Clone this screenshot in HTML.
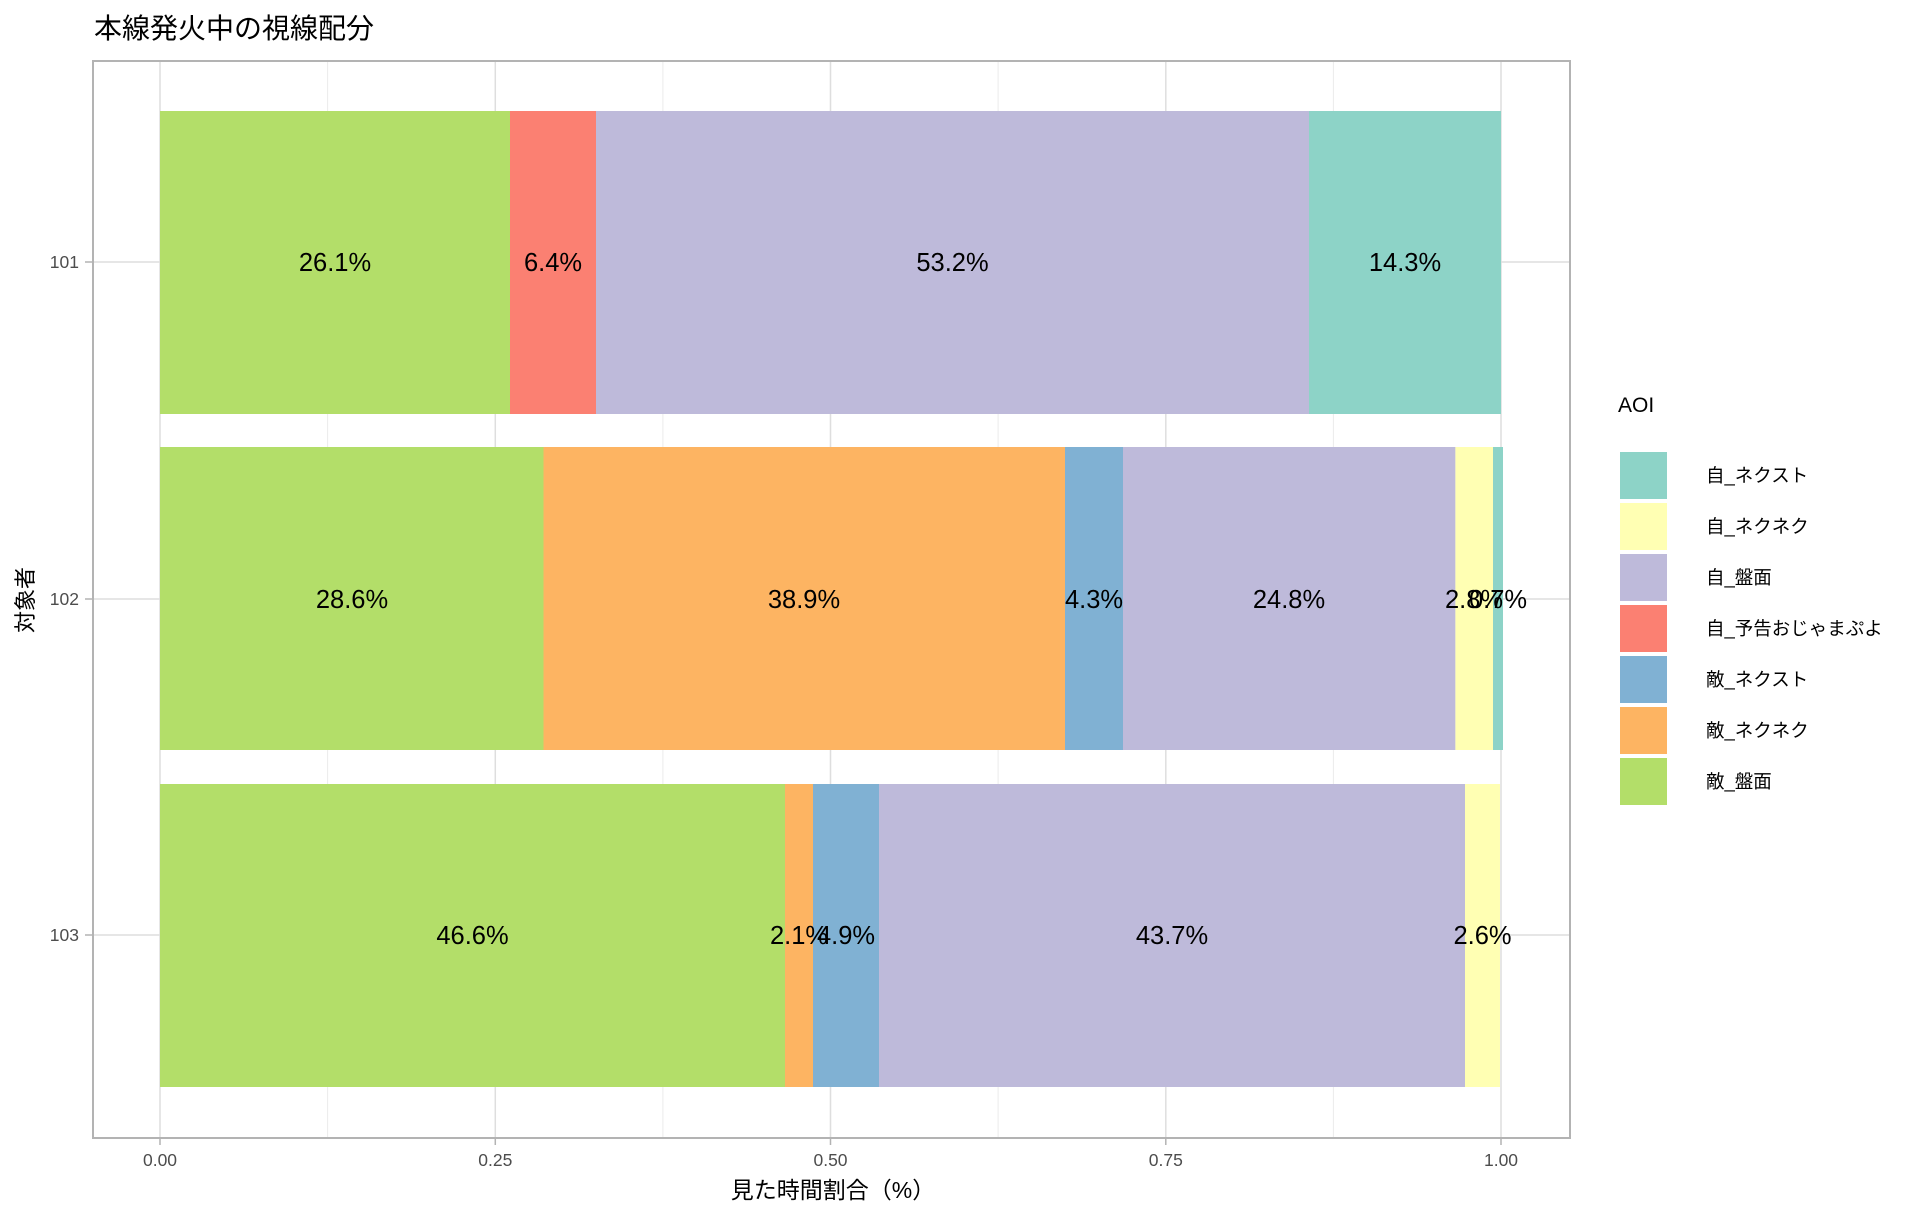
<!DOCTYPE html>
<html><head><meta charset="utf-8"><style>
html,body{margin:0;padding:0;background:#fff;}
svg{display:block;}
text{font-family:"Liberation Sans","Noto Sans CJK JP",sans-serif;}
</style></head><body>
<svg width="1920" height="1219" xmlns="http://www.w3.org/2000/svg">
<rect width="1920" height="1219" fill="#fff"/>
<text x="94" y="38" font-size="28" fill="#000">本線発火中の視線配分</text>
<!-- grid -->
<g stroke="#ebebeb" stroke-width="1">
<line x1="327.6" y1="61" x2="327.6" y2="1138"/>
<line x1="662.9" y1="61" x2="662.9" y2="1138"/>
<line x1="998.1" y1="61" x2="998.1" y2="1138"/>
<line x1="1333.4" y1="61" x2="1333.4" y2="1138"/>
</g>
<g stroke="#dedede" stroke-width="1.5">
<line x1="160" y1="61" x2="160" y2="1138"/>
<line x1="495.3" y1="61" x2="495.3" y2="1138"/>
<line x1="830.5" y1="61" x2="830.5" y2="1138"/>
<line x1="1165.8" y1="61" x2="1165.8" y2="1138"/>
<line x1="1501" y1="61" x2="1501" y2="1138"/>
<line x1="93" y1="262" x2="1570" y2="262"/>
<line x1="93" y1="599" x2="1570" y2="599"/>
<line x1="93" y1="935" x2="1570" y2="935"/>
</g>
<!-- bars 101 -->
<rect x="160" y="111" width="350" height="303" fill="#b3de69"/>
<rect x="510" y="111" width="86" height="303" fill="#fb8072"/>
<rect x="596" y="111" width="713" height="303" fill="#bebada"/>
<rect x="1309" y="111" width="192" height="303" fill="#8dd3c7"/>
<!-- bars 102 -->
<rect x="160" y="447" width="383.5" height="303" fill="#b3de69"/>
<rect x="543.5" y="447" width="521.5" height="303" fill="#fdb462"/>
<rect x="1065" y="447" width="58" height="303" fill="#80b1d3"/>
<rect x="1123" y="447" width="332.4" height="303" fill="#bebada"/>
<rect x="1455.4" y="447" width="37.6" height="303" fill="#ffffb3"/>
<rect x="1493" y="447" width="10" height="303" fill="#8dd3c7"/>
<!-- bars 103 -->
<rect x="160" y="784" width="625" height="303" fill="#b3de69"/>
<rect x="785" y="784" width="28" height="303" fill="#fdb462"/>
<rect x="813" y="784" width="66" height="303" fill="#80b1d3"/>
<rect x="879" y="784" width="586" height="303" fill="#bebada"/>
<rect x="1465" y="784" width="35" height="303" fill="#ffffb3"/>
<!-- labels -->
<g font-size="25.5" fill="#000" text-anchor="middle">
<text x="335" y="271">26.1%</text>
<text x="553" y="271">6.4%</text>
<text x="952.5" y="271">53.2%</text>
<text x="1405" y="271">14.3%</text>
<text x="352" y="608">28.6%</text>
<text x="804" y="608">38.9%</text>
<text x="1094" y="608">4.3%</text>
<text x="1289" y="608">24.8%</text>
<text x="1474" y="608">2.8%</text>
<text x="1498" y="608">0.7%</text>
<text x="472.5" y="944">46.6%</text>
<text x="799" y="944">2.1%</text>
<text x="846" y="944">4.9%</text>
<text x="1172" y="944">43.7%</text>
<text x="1482.5" y="944">2.6%</text>
</g>
<!-- panel border -->
<rect x="93" y="61" width="1477" height="1077" fill="none" stroke="#b3b3b3" stroke-width="2"/>
<!-- ticks -->
<g stroke="#b3b3b3" stroke-width="1.5">
<line x1="160" y1="1138" x2="160" y2="1145"/>
<line x1="495.3" y1="1138" x2="495.3" y2="1145"/>
<line x1="830.5" y1="1138" x2="830.5" y2="1145"/>
<line x1="1165.8" y1="1138" x2="1165.8" y2="1145"/>
<line x1="1501" y1="1138" x2="1501" y2="1145"/>
<line x1="85" y1="262" x2="93" y2="262"/>
<line x1="85" y1="599" x2="93" y2="599"/>
<line x1="85" y1="935" x2="93" y2="935"/>
</g>
<g font-size="17.5" fill="#4d4d4d" text-anchor="middle">
<text x="160" y="1166">0.00</text>
<text x="495.3" y="1166">0.25</text>
<text x="830.5" y="1166">0.50</text>
<text x="1165.8" y="1166">0.75</text>
<text x="1501" y="1166">1.00</text>
</g>
<g font-size="17.5" fill="#4d4d4d" text-anchor="end">
<text x="79" y="268">101</text>
<text x="79" y="605">102</text>
<text x="79" y="941">103</text>
</g>
<text x="833" y="1198" font-size="23" fill="#000" text-anchor="middle">見た時間割合（%）</text>
<text transform="translate(33,600) rotate(-90)" font-size="22" fill="#000" text-anchor="middle">対象者</text>
<!-- legend -->
<text x="1618" y="412" font-size="21" fill="#000">AOI</text>
<rect x="1620" y="452" width="47" height="47" fill="#8dd3c7"/>
<rect x="1620" y="503" width="47" height="47" fill="#ffffb3"/>
<rect x="1620" y="554" width="47" height="47" fill="#bebada"/>
<rect x="1620" y="605" width="47" height="47" fill="#fb8072"/>
<rect x="1620" y="656" width="47" height="47" fill="#80b1d3"/>
<rect x="1620" y="707" width="47" height="47" fill="#fdb462"/>
<rect x="1620" y="758" width="47" height="47" fill="#b3de69"/>
<g font-size="18.5" fill="#000">
<text x="1706" y="482">自_ネクスト</text>
<text x="1706" y="533">自_ネクネク</text>
<text x="1706" y="584">自_盤面</text>
<text x="1706" y="635">自_予告おじゃまぷよ</text>
<text x="1706" y="686">敵_ネクスト</text>
<text x="1706" y="737">敵_ネクネク</text>
<text x="1706" y="788">敵_盤面</text>
</g>
</svg>
</body></html>
